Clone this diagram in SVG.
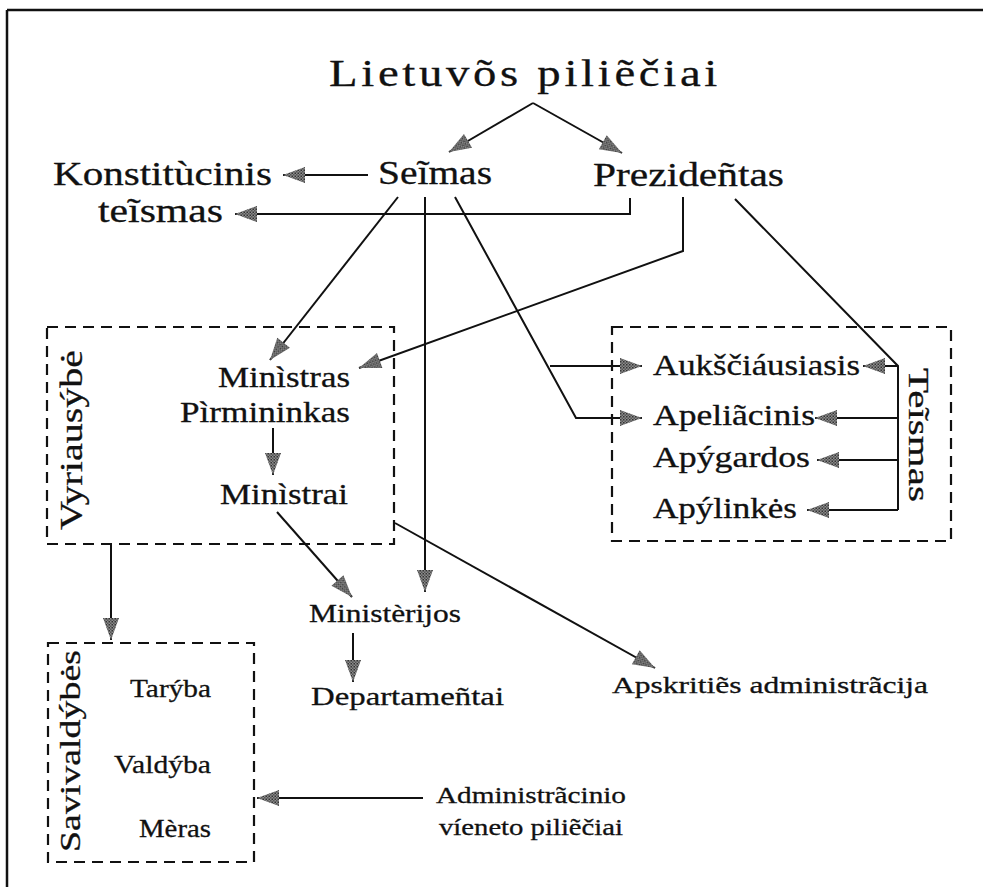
<svg xmlns="http://www.w3.org/2000/svg" width="983" height="887" viewBox="0 0 983 887">
<style>
text{font-family:"Liberation Serif","DejaVu Serif",serif;fill:#111;stroke:#111;stroke-width:0.3}
.b{font-size:33px}
.m{font-size:29px}
.s{font-size:26px}
.xs{font-size:24px}
.ln{fill:none;stroke:#111;stroke-width:2;marker-end:url(#ah)}
.pl{fill:none;stroke:#111;stroke-width:2}
.box{fill:none;stroke:#111;stroke-width:2.2;stroke-dasharray:11 7}
</style>
<defs>
<pattern id="dots" patternUnits="userSpaceOnUse" width="3" height="3">
<rect width="3" height="3" fill="#8c8c8c"/>
<rect x="0" y="0" width="1.5" height="1.5" fill="#333"/>
<rect x="1.5" y="1.5" width="1.5" height="1.5" fill="#555"/>
</pattern>
<marker id="ah" markerUnits="userSpaceOnUse" markerWidth="24" markerHeight="16" refX="22" refY="8" orient="auto" overflow="visible">
<path d="M0,0 L22,8 L0,16 Z" fill="url(#dots)"/>
</marker>
</defs>
<rect width="983" height="887" fill="#fff"/>
<g id="frame">
<line x1="7" y1="10" x2="983" y2="10" stroke="#111" stroke-width="2.5"/>
<line x1="7" y1="10" x2="7" y2="887" stroke="#111" stroke-width="2.5"/>
</g>
<g id="connectors">
<polyline class="ln" points="533,103 449,152"/>
<polyline class="ln" points="533,103 622,153"/>
<polyline class="ln" points="368,175 283,175"/>
<polyline class="ln" points="630,198 630,214 235,214"/>
<polyline class="ln" points="398,197 270,360"/>
<polyline class="ln" points="425,197 425,592"/>
<polyline class="ln" points="455,197 576,418 642,418"/>
<polyline class="ln" points="550,366 642,366"/>
<polyline class="ln" points="683,197 683,251 359,368"/>
<polyline class="pl" points="735,199 898,366 898,510"/>
<polyline class="ln" points="898,366 863,366"/>
<polyline class="ln" points="898,418 815,418"/>
<polyline class="ln" points="898,460 817,460"/>
<polyline class="ln" points="898,510 807,510"/>
<polyline class="ln" points="273,428 273,475"/>
<polyline class="ln" points="277,512 352,597"/>
<polyline class="ln" points="395,523 655,668"/>
<polyline class="ln" points="111,544 111,640"/>
<polyline class="ln" points="353,633 353,682"/>
<polyline class="ln" points="423,798 257,798"/>
</g>
<g id="title"><text x="329" y="86" font-size="38" letter-spacing="3" textLength="392" lengthAdjust="spacingAndGlyphs">Lietuvõs piliẽčiai</text></g>
<g id="seimas"><text class="b" x="378" y="184" textLength="114" lengthAdjust="spacingAndGlyphs">Seĩmas</text></g>
<g id="prezidentas"><text class="b" x="593" y="186" textLength="191" lengthAdjust="spacingAndGlyphs">Prezideñtas</text></g>
<g id="konstitucinis">
<text class="b" x="53" y="185" textLength="219" lengthAdjust="spacingAndGlyphs">Konstitùcinis</text>
<text class="b" x="98" y="222" textLength="125" lengthAdjust="spacingAndGlyphs">teĩsmas</text>
</g>
<g id="vyriausybe">
<rect class="box" x="47" y="327" width="347" height="217"/>
<text transform="translate(82,530) rotate(-90)" font-size="31" textLength="180" lengthAdjust="spacingAndGlyphs">Vyriausýbė</text>
</g>
<g id="ministras">
<text class="m" x="218" y="387" textLength="132" lengthAdjust="spacingAndGlyphs">Minìstras</text>
<text class="m" x="180" y="422" textLength="170" lengthAdjust="spacingAndGlyphs">Pìrmininkas</text>
</g>
<g id="ministrai"><text class="m" x="220" y="504" textLength="128" lengthAdjust="spacingAndGlyphs">Minìstrai</text></g>
<g id="teismas">
<rect class="box" x="612" y="327" width="339" height="214"/>
<text transform="translate(909,368) rotate(90)" font-size="29" textLength="134" lengthAdjust="spacingAndGlyphs">Teĩsmas</text>
</g>
<g id="aukšciausiasis"><text class="m" x="653" y="375" textLength="207" lengthAdjust="spacingAndGlyphs">Aukščiáusiasis</text></g>
<g id="apeliacinis"><text class="m" x="653" y="425" textLength="162" lengthAdjust="spacingAndGlyphs">Apeliãcinis</text></g>
<g id="apygardos"><text class="m" x="653" y="467" textLength="157" lengthAdjust="spacingAndGlyphs">Apýgardos</text></g>
<g id="apylinkes"><text class="m" x="653" y="518" textLength="144" lengthAdjust="spacingAndGlyphs">Apýlinkės</text></g>
<g id="savivaldybes">
<rect class="box" x="48" y="643" width="206" height="219"/>
<text transform="translate(80,852) rotate(-90)" font-size="29" textLength="202" lengthAdjust="spacingAndGlyphs">Savivaldýbės</text>
<text class="s" x="130" y="697" textLength="81" lengthAdjust="spacingAndGlyphs">Tarýba</text>
<text class="s" x="114" y="773" textLength="97" lengthAdjust="spacingAndGlyphs">Valdýba</text>
<text class="s" x="139" y="837" textLength="72" lengthAdjust="spacingAndGlyphs">Mèras</text>
</g>
<g id="ministerijos"><text class="s" x="309" y="622" textLength="152" lengthAdjust="spacingAndGlyphs">Ministèrijos</text></g>
<g id="departamentai"><text class="s" x="311" y="705" textLength="193" lengthAdjust="spacingAndGlyphs">Departameñtai</text></g>
<g id="apskrities"><text class="xs" x="612" y="693" textLength="316" lengthAdjust="spacingAndGlyphs">Apskritiẽs administrãcija</text></g>
<g id="administracinio">
<text class="xs" x="436" y="803" textLength="190" lengthAdjust="spacingAndGlyphs">Administrãcinio</text>
<text class="xs" x="439" y="835" textLength="184" lengthAdjust="spacingAndGlyphs">víeneto piliẽčiai</text>
</g>
</svg>
